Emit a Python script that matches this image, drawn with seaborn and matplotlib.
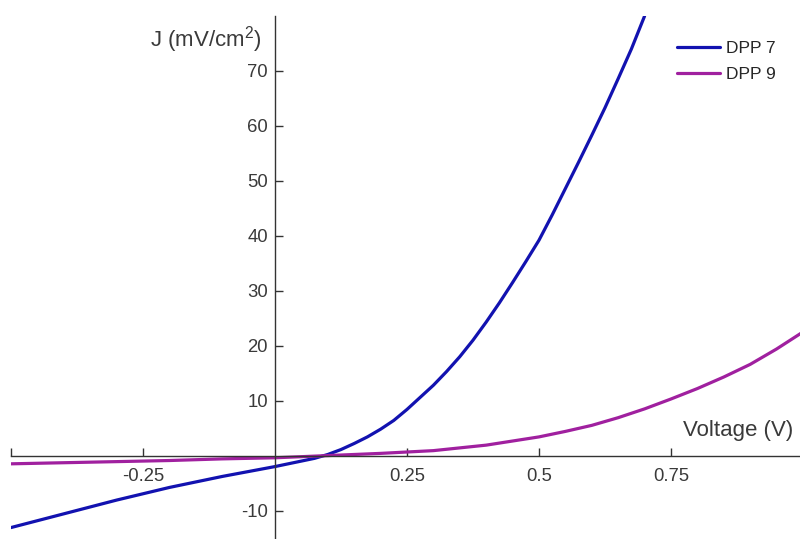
import pandas as pd
import numpy as np
import seaborn as sns
import matplotlib.pyplot as plt

# DPP 7 kurvesi
volt_dpp7 = [-0.5, -0.4, -0.3, -0.2, -0.1, 0.0, 0.025, 0.05, 0.075, 0.1,
             0.125, 0.15, 0.175, 0.2, 0.225, 0.25, 0.275, 0.3, 0.325, 0.35,
             0.375, 0.4, 0.425, 0.45, 0.475, 0.5, 0.525, 0.55, 0.575, 0.6,
             0.625, 0.65, 0.675, 0.7]
j_dpp7 = [-13.1, -10.6, -8.1, -5.8, -3.8, -2.0, -1.5, -1.0, -0.5, 0.2,
          1.1, 2.2, 3.4, 4.8, 6.4, 8.4, 10.6, 12.8, 15.3, 18.0,
          21.0, 24.3, 27.8, 31.5, 35.3, 39.2, 43.8, 48.6, 53.4, 58.3,
          63.3, 68.6, 74.0, 80.0]

# DPP 9 kurvesi
volt_dpp9 = [-0.5, -0.4, -0.3, -0.2, -0.1, 0.0, 0.1, 0.2, 0.3, 0.4, 0.5,
             0.55, 0.6, 0.65, 0.7, 0.75, 0.8, 0.85, 0.9, 0.95, 1.0]
j_dpp9 = [-1.5, -1.3, -1.1, -0.9, -0.6, -0.4, 0.0, 0.4, 0.9, 1.9, 3.4,
          4.4, 5.5, 6.9, 8.5, 10.3, 12.2, 14.3, 16.6, 19.4, 22.5]

x_ticks = [-0.5, -0.25, 0.25, 0.5, 0.75, 1.0]
x_tick_labels = ["", "-0.25", "0.25", "0.5", "0.75", ""]
y_ticks = [-10, 10, 20, 30, 40, 50, 60, 70]

sns.set_style("ticks")
plt.rcParams["font.family"] = ["Liberation Sans", "DejaVu Sans"]
plt.rcParams["mathtext.default"] = "regular"
plt.rcParams["axes.unicode_minus"] = False

df7 = pd.DataFrame({"V": volt_dpp7, "J": j_dpp7})
df9 = pd.DataFrame({"V": volt_dpp9, "J": j_dpp9})

fig = plt.figure(figsize=(8, 5.39), dpi=100)
ax = fig.add_axes([11 / 800, 1 / 539, 792 / 800, 522 / 539])

sns.lineplot(data=df7, x="V", y="J", color="#1212b0", linewidth=2.3,
             label="DPP 7", ax=ax)
sns.lineplot(data=df9, x="V", y="J", color="#a0209f", linewidth=2.3,
             label="DPP 9", ax=ax)

ax.set_xlim(-0.5, 1.0)
ax.set_ylim(-15, 80)

# eksenleri orijinden gecir
ax.spines["left"].set_position(("data", 0))
ax.spines["bottom"].set_position(("data", 0))
ax.spines["right"].set_visible(False)
ax.spines["top"].set_visible(False)
for s in ["left", "bottom"]:
    ax.spines[s].set_color("#333333")
    ax.spines[s].set_linewidth(1.0)

ax.set_xticks(x_ticks)
ax.set_xticklabels(x_tick_labels)
ax.set_yticks(y_ticks)
ax.tick_params(axis="both", direction="in", length=6, width=1.0,
               colors="#333333", labelsize=13.3, labelcolor="#3a3a3a",
               bottom=True, left=True)
ax.tick_params(axis="x", pad=9)
ax.tick_params(axis="y", pad=5)

ax.set_xlabel("")
ax.set_ylabel("")
ax.text(-0.025, 75.8, "J (mV/cm$^{2}$)", ha="right", va="center",
        fontsize=16, color="#3a3a3a")
ax.text(0.981, 3.6, "Voltage (V)", ha="right", va="baseline",
        fontsize=16, color="#3a3a3a")

ax.legend(loc="upper left", bbox_to_anchor=(677 / 800, 1 - 41 / 539),
          bbox_transform=fig.transFigure, frameon=False, fontsize=12.5,
          handlelength=2.5, handletextpad=0.35, labelspacing=0.6,
          borderpad=0, borderaxespad=0)

fig.savefig("out.png", dpi=100)
